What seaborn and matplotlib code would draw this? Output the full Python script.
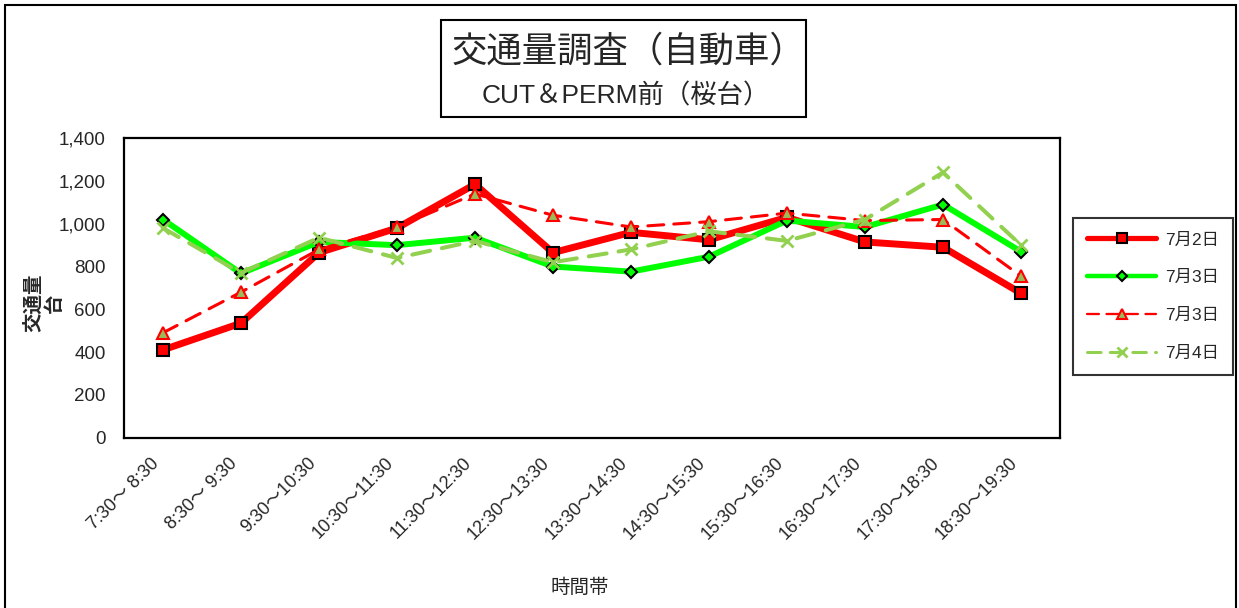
import matplotlib
matplotlib.use("Agg")
import matplotlib.pyplot as plt
from matplotlib.patches import Rectangle
from matplotlib.lines import Line2D
import seaborn as sns
import pandas as pd
import numpy as np

# Hourly vehicle counts at one survey point
time_slots = ["7:30～ 8:30", "8:30～ 9:30", "9:30～10:30", "10:30～11:30",
              "11:30～12:30", "12:30～13:30", "13:30～14:30", "14:30～15:30",
              "15:30～16:30", "16:30～17:30", "17:30～18:30", "18:30～19:30"]
series_names = ["7月2日", "7月3日", "7月3日 ", "7月4日"]
jul2 = [410, 535, 865, 980, 1185, 865, 960, 925, 1030, 915, 890, 675]
jul3 = [1020, 768, 915, 900, 935, 800, 776, 846, 1015, 985, 1090, 870]
jul3_b = [490, 680, 880, 985, 1140, 1040, 985, 1010, 1050, 1015, 1020, 755]
jul4 = [980, 770, 935, 840, 920, 820, 880, 965, 920, 1020, 1240, 900]
y_ticks = [0, 200, 400, 600, 800, 1000, 1200, 1400]

sns.set_style("white")
plt.rcParams["font.family"] = ["Liberation Sans", "Noto Sans CJK JP", "DejaVu Sans"]

frames = []
for name, vals in zip(series_names, [jul2, jul3, jul3_b, jul4]):
    frames.append(pd.DataFrame({"slot": np.arange(len(time_slots)), "count": vals, "series": name}))
df = pd.concat(frames, ignore_index=True)

styles = {
    "7月2日": dict(color="#FF0000", lw=5.0, marker="s", ms=9, lms=6.5, mfc="#FF0000", mec="black", mew=1.5),
    "7月3日": dict(color="#00FF00", lw=4.3, marker="D", ms=6.5, lms=5, mfc="#00FF00", mec="black", mew=1.5),
    "7月3日 ": dict(color="#FF0000", lw=2.2, marker="^", ms=9, lms=7, mfc="#9BBB59", mec="#FF0000", mew=1.5,
                   dashes=(5.2, 3.3)),
    "7月4日": dict(color="#92D050", lw=2.9, marker="x", ms=9, lms=7, mfc="#92D050", mec="#92D050", mew=2.0,
                  dashes=(4.5, 3.0)),
}

fig = plt.figure(figsize=(12.39, 6.08), dpi=100)
ax = fig.add_axes([124 / 1239, 1 - 437.5 / 608, (1060 - 124) / 1239, (437.5 - 138.3) / 608])

handles = []
for name in series_names:
    st = styles[name]
    sub = df[df["series"] == name]
    kw = dict(color=st["color"], linewidth=st["lw"], marker=st["marker"], markersize=st["ms"],
              markerfacecolor=st["mfc"], markeredgecolor=st["mec"], markeredgewidth=st["mew"])
    if "dashes" in st:
        kw["linestyle"] = (0, st["dashes"])
        kw["dash_capstyle"] = "round"
    else:
        kw["solid_capstyle"] = "round"
    sns.lineplot(data=sub, x="slot", y="count", ax=ax, legend=False, **kw)
    hkw = dict(kw)
    hkw["markersize"] = st["lms"]
    hkw["linewidth"] = st["lw"] * 0.75
    handles.append(Line2D([0], [0], **hkw))

ax.set_xlim(-0.5, len(time_slots) - 0.5)
ax.set_ylim(0, 1400)
ax.set_yticks(y_ticks)
ax.set_yticklabels([f"{v:,}" for v in y_ticks], fontsize=13.5)
ax.set_xticks(np.arange(len(time_slots)))
ax.set_xticklabels(time_slots, rotation=45, ha="right", va="bottom", rotation_mode="anchor", fontsize=13)
ax.set_xticks(np.arange(len(time_slots) + 1) - 0.5, minor=True)
ax.tick_params(axis="x", which="major", length=0, pad=21)
ax.tick_params(axis="x", which="minor", direction="in", length=5, width=1.5, color="black")
ax.tick_params(axis="y", which="major", direction="in", length=5, width=1.5, color="black", pad=13)
for s in ax.spines.values():
    s.set_color("black")
    s.set_linewidth(1.6)
ax.set_xlabel("")
ax.set_ylabel("")
ax.grid(False)

# Axis titles
fig.text(44 / 1239, 1 - 303 / 608, "交通量\n台", rotation=90, ha="center", va="center",
         multialignment="center", fontsize=14, fontweight="bold", linespacing=1.15)
fig.text(580 / 1239, 1 - 588 / 608, "時間帯", ha="center", va="center", fontsize=14)

# Title box
fig.patches.append(Rectangle((441 / 1239, 1 - 117 / 608), (806 - 441) / 1239, (117 - 20) / 608,
                             transform=fig.transFigure, fill=False, edgecolor="black", linewidth=1.5))
fig.text(628 / 1239, 1 - 52 / 608, "交通量調査（自動車）", ha="center", va="center", fontsize=25.5)
fig.text(626 / 1239, 1 - 96 / 608, "CUT＆PERM前（桜台）", ha="center", va="center", fontsize=19)

# Outer frame
fig.patches.append(Rectangle((5 / 1239, -0.1), (1236 - 5) / 1239, 1.1 - 5 / 608,
                             transform=fig.transFigure, fill=False, edgecolor="black", linewidth=1.5))

leg = fig.legend(handles, [n.strip() for n in series_names], loc="center",
                 bbox_to_anchor=(1073 / 1239, 1 - 379 / 608, 160 / 1239, 165 / 608),
                 fontsize=12.5, handlelength=4.0, labelspacing=1.3, borderpad=0.8,
                 handletextpad=0.5, fancybox=False, frameon=True, numpoints=1)
leg.get_frame().set_edgecolor("black")
leg.get_frame().set_linewidth(1.5)

fig.savefig("out.png", dpi=100)
